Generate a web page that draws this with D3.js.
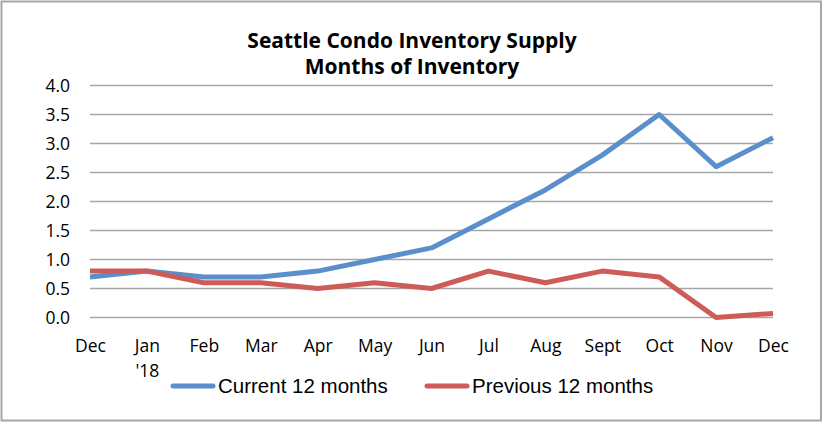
<!DOCTYPE html>
<html><head><meta charset="utf-8">
<script src="https://cdn.jsdelivr.net/npm/d3@7"></script>
<style>body{margin:0;background:#fff}</style>
</head><body><svg id="c" width="823" height="422"></svg>
<script>
const months = ["Dec","Jan","Feb","Mar","Apr","May","Jun","Jul","Aug","Sept","Oct","Nov","Dec"];
const monthSub = ["","'18","","","","","","","","","","",""];
const current = [0.7,0.8,0.7,0.7,0.8,1.0,1.2,1.7,2.2,2.8,3.5,2.6,3.1];
const previous = [0.8,0.8,0.6,0.6,0.5,0.6,0.5,0.8,0.6,0.8,0.7,0.0,0.07];
const yTicks = [0,0.5,1,1.5,2,2.5,3,3.5,4];
const titleLines = ["Seattle Condo Inventory Supply","Months of Inventory"];
const seriesNames = ["Current 12 months","Previous 12 months"];
const colors = ["#5b8fcb","#cd5c58"];

const svg = d3.select("#c");
svg.append("rect").attr("x",1.5).attr("y",1.5).attr("width",819.5).attr("height",419)
  .attr("fill","#fff").attr("stroke","#a6a6a6").attr("stroke-width",2);

const x = d3.scalePoint().domain(d3.range(months.length)).range([90,773]);
const y = d3.scaleLinear().domain([0,4]).range([317.5,85.5]);

const font = "'Open Sans', Lato, sans-serif";
svg.append("g").selectAll("text").data(titleLines).join("text")
  .attr("x",412).attr("y",(d,i)=>48+i*26).attr("text-anchor","middle")
  .attr("font-family",font).attr("font-weight","bold").attr("font-size",21).attr("fill","#000")
  .text(d=>d);

// grid
svg.append("g").selectAll("line").data(yTicks).join("line")
  .attr("x1",90).attr("x2",773).attr("y1",d=>y(d)).attr("y2",d=>y(d))
  .attr("stroke","#a6a6a6").attr("stroke-width",1.5);

const yAxis = d3.axisLeft(y).tickValues(yTicks).tickFormat(d3.format(".1f")).tickSize(0).tickPadding(20);
const ya = svg.append("g").attr("transform","translate(90,0)").call(yAxis);
ya.select(".domain").remove();
ya.selectAll("text").attr("font-family",font).attr("font-size",17.5).attr("fill","#000");

const xAxis = d3.axisBottom(x).tickFormat(i=>months[i]).tickSize(0).tickPadding(22);
const xa = svg.append("g").attr("transform","translate(0,317.5)").call(xAxis);
xa.select(".domain").remove();
xa.selectAll("text").attr("font-family",font).attr("font-size",17.5).attr("fill","#000");
xa.selectAll(".tick").append("text").attr("y",59).attr("text-anchor","middle")
  .attr("font-family",font).attr("font-size",17.5).attr("fill","#000").text(i=>monthSub[i]);

const line = d3.line().x((d,i)=>x(i)).y(d=>y(d));
[current,previous].forEach((s,k)=>{
  svg.append("path").datum(s).attr("d",line).attr("fill","none")
    .attr("stroke",colors[k]).attr("stroke-width",5).attr("stroke-linejoin","round");
});

// legend
const legX = [173,427];
const lg = svg.append("g").selectAll("g").data(seriesNames).join("g")
  .attr("transform",(d,i)=>`translate(${legX[i]},386)`);
lg.append("line").attr("x1",0).attr("x2",40).attr("stroke",(d,i)=>colors[i]).attr("stroke-width",5).attr("stroke-linecap","round");
lg.append("text").attr("x",45).attr("y",7).attr("font-family","'Liberation Sans', Arial, sans-serif")
  .attr("font-size",20.5).attr("fill","#000").text(d=>d);
</script></body></html>
